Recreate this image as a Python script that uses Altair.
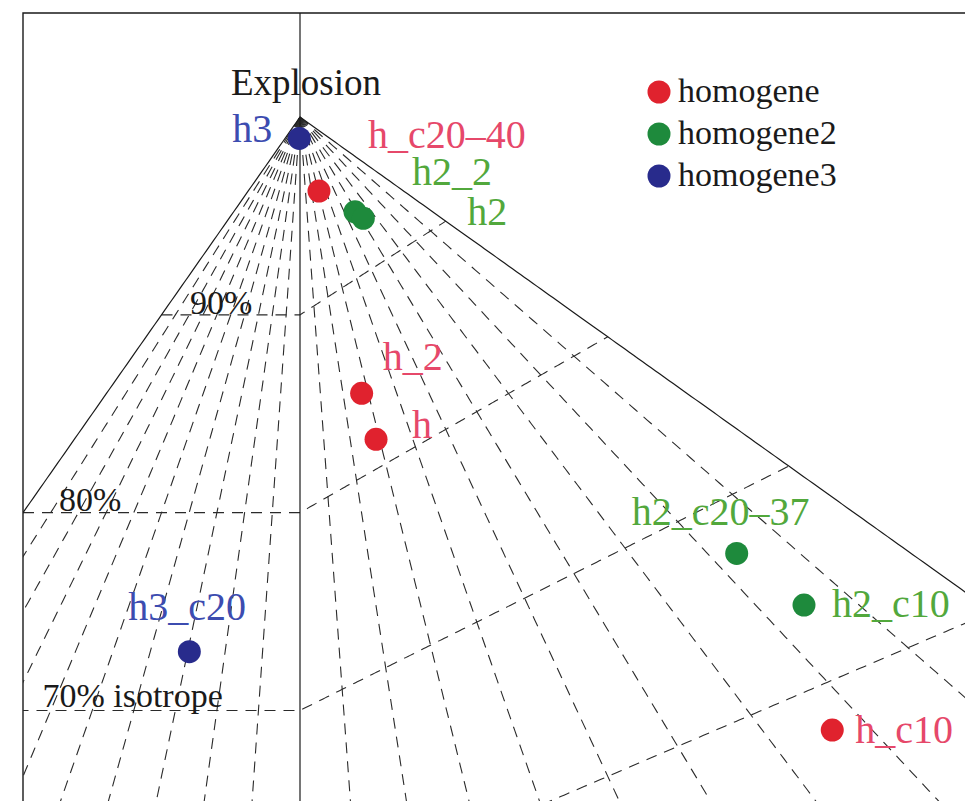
import altair as alt
import pandas as pd
import numpy as np

# ---------------- data ----------------
names = ["h3", "h_c20\u201340", "h2_2", "h2", "h_2", "h", "h3_c20",
         "h2_c20\u201337", "h2_c10", "h_c10"]
groups = ["homogene3", "homogene", "homogene2", "homogene2", "homogene",
          "homogene", "homogene3", "homogene2", "homogene2", "homogene"]
u_vals = [-0.0005, 0.0137, 0.0397, 0.0457, 0.0445, 0.0549, -0.0799,
          0.3153, 0.3639, 0.3843]
v_vals = [0.9892, 0.9626, 0.9521, 0.9488, 0.8603, 0.8371, 0.7297,
          0.7794, 0.7533, 0.6901]

group_names = ["homogene", "homogene2", "homogene3"]

# grid definition of the Hudson source-type plot
T_values = [-0.9, -0.8, -0.7, -0.6, -0.5, -0.4, -0.3, -0.2, -0.1,
            0.1, 0.2, 0.3, 0.4, 0.5, 0.6, 0.7, 0.8, 0.9]
k_levels = [0.9, 0.8, 0.7, 0.6]
k_label_text = ["90%", "80%", "70% isotrope"]
k_label_level = [0.9, 0.8, 0.7]
k_label_u = [-0.0794, -0.174, -0.186]

# ---------------- styles / layout ----------------
dot_colors = ["#e0222e", "#1e8a3c", "#282b8c"]
text_colors = ["#e6486a", "#52a83c", "#3c4cb0"]
label_dx = [-67, 49, 57, 104, 21, 36, -61, -105, 28, 23]
label_dy = [4, -43, -27, 7, -23, -1, -32, -28, 12, 13]
k_label_dy = [-1, -2, -3]
FONT = "Liberation Serif"
PX_U, PX_V = 1385.0, 1978.0
W, H = 942, 788
U_MIN = -0.2
U_MAX = U_MIN + W / PX_U
V_MAX = 1.0526
V_MIN = V_MAX - H / PX_V


def hudson_uv(T, k):
    tau = T * (1 - abs(k))
    if tau > 0 and k > 0:
        d = 1 - tau / 2 if tau < 4 * k else 1 - 2 * k
        return tau / d, k / d
    return tau, k


dashed_rows = []
ks = np.linspace(1.0, 0.5, 201)
for T in T_values:
    for i, k in enumerate(ks):
        u, v = hudson_uv(T, k)
        dashed_rows.append({"id": f"T{T}", "ord": i, "u": u, "v": v})
Ts = np.linspace(-1.0, 1.0, 401)
for k in k_levels:
    for i, T in enumerate(Ts):
        u, v = hudson_uv(T, k)
        dashed_rows.append({"id": f"k{k}", "ord": i, "u": u, "v": v})
dashed_df = pd.DataFrame(dashed_rows)

solid_rows = []
for T in [-1.0, 1.0]:
    for i, k in enumerate(ks):
        u, v = hudson_uv(T, k)
        solid_rows.append({"id": f"edge{T}", "ord": i, "u": u, "v": v})
solid_rows.append({"id": "axis", "ord": 0, "u": 0.0, "v": 0.5})
solid_rows.append({"id": "axis", "ord": 1, "u": 0.0, "v": 1.2})
solid_df = pd.DataFrame(solid_rows)

frame_df = pd.DataFrame({
    "ord": [0, 1, 2],
    "u": [U_MIN, U_MIN, U_MAX],
    "v": [V_MIN, V_MAX, V_MAX],
})

pts = pd.DataFrame({"name": names, "group": groups, "u": u_vals, "v": v_vals})

xs = alt.Scale(domain=[U_MIN, U_MAX], nice=False, zero=False)
ys = alt.Scale(domain=[V_MIN, V_MAX], nice=False, zero=False)
X = alt.X("u:Q", scale=xs, axis=None)
Y = alt.Y("v:Q", scale=ys, axis=None)

dashed = alt.Chart(dashed_df).mark_line(
    strokeDash=[11, 8], color="#2a2a2a", strokeWidth=1.1, clip=True
).encode(x=X, y=Y, detail="id:N", order="ord:Q")

solid = alt.Chart(solid_df).mark_line(
    color="#1a1a1a", strokeWidth=1.2, clip=True
).encode(x=X, y=Y, detail="id:N", order="ord:Q")

frame = alt.Chart(frame_df).mark_line(
    color="#1a1a1a", strokeWidth=1.4
).encode(x=X, y=Y, order="ord:Q")

points = alt.Chart(pts).mark_circle(size=529, opacity=1).encode(
    x=X, y=Y,
    color=alt.Color(
        "group:N",
        scale=alt.Scale(domain=group_names, range=dot_colors),
        legend=alt.Legend(
            title=None, orient="none", legendX=619, legendY=62,
            symbolType="circle", symbolSize=529, symbolStrokeWidth=0,
            symbolOpacity=1, labelFont=FONT, labelFontSize=34,
            labelColor="#1a1a1a", labelOffset=2, rowPadding=8, padding=0,
        ),
    ),
)

label_layers = []
for i, nm in enumerate(names):
    label_layers.append(
        alt.Chart(pts).transform_filter(alt.datum.name == nm).mark_text(
            align="left", baseline="alphabetic", font=FONT, fontSize=40,
            dx=label_dx[i], dy=label_dy[i],
        ).encode(
            x=X, y=Y, text="name:N",
            color=alt.Color("group:N",
                            scale=alt.Scale(domain=group_names, range=text_colors),
                            legend=None),
        )
    )

klab_df = pd.DataFrame({"t": k_label_text, "u": k_label_u, "v": k_label_level})
klab_layers = []
for i, t in enumerate(k_label_text):
    klab_layers.append(
        alt.Chart(klab_df).transform_filter(alt.datum.t == t).mark_text(
            align="left", baseline="alphabetic", font=FONT, fontSize=34,
            color="#1a1a1a", dy=k_label_dy[i],
        ).encode(x=X, y=Y, text="t:N")
    )

expl = alt.Chart(pd.DataFrame({"t": ["Explosion"], "u": [0.0], "v": [1.0]})).mark_text(
    align="center", baseline="alphabetic", font=FONT, fontSize=37,
    color="#1a1a1a", dx=6, dy=-22,
).encode(x=X, y=Y, text="t:N")

chart = alt.layer(frame, dashed, solid, points, *label_layers, *klab_layers, expl).resolve_scale(
    color="independent"
).properties(
    width=W, height=H,
    padding={"left": 15, "top": 5, "right": 0, "bottom": 0},
    autosize=alt.AutoSizeParams(type="none"),
    background="white",
).configure_view(stroke=None)

chart.save("out.html", embed_options={"renderer": "svg", "actions": False})
